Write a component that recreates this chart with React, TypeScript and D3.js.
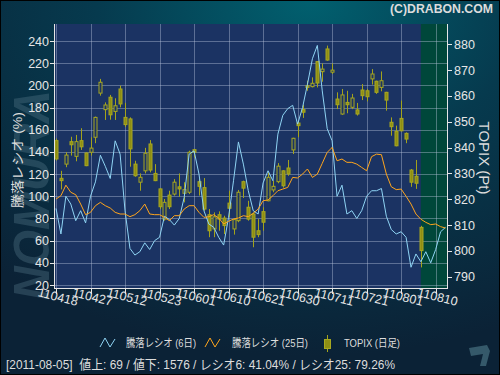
import React, { useRef, useEffect } from "react";
import * as d3 from "d3";

// x labels, one every 7 trading days (index 0 = 2011-04-18)
const tickLabels = ["110418", "110427", "110512", "110523", "110601", "110610", "110621", "110630", "110711", "110721", "110801", "110810"];
const tickStep = 7;

// TOPIX daily candles
const open = [842.7, 828.1, 833.6, 842.3, 836.6, 842.7, 837.9, 838.2, 844.0, 861.1, 854.7, 859.5, 854.0, 862.7, 851.7, 851.1, 833.6, 826.6, 831.0, 841.4, 830.0, 824.0, 812.3, 821.6, 822.0, 824.8, 822.3, 822.7, 839.2, 826.8, 824.5, 814.0, 808.5, 814.0, 812.7, 818.5, 808.5, 811.7, 826.8, 816.9, 814.3, 807.8, 815.2, 819.4, 823.6, 826.8, 831.0, 832.1, 839.1, 849.5, 854.7, 864.0, 863.6, 873.3, 869.4, 878.2, 869.2, 858.8, 853.0, 857.5, 855.6, 854.6, 862.3, 862.0, 866.6, 865.7, 863.3, 861.4, 849.8, 846.3, 851.3, 845.5, 831.3, 828.9, 809.1];
const high = [843.5, 831.0, 838.2, 844.2, 844.9, 847.5, 838.2, 844.0, 852.0, 866.6, 857.5, 860.4, 859.1, 864.0, 857.3, 851.7, 834.9, 830.0, 839.9, 842.9, 833.6, 824.2, 820.1, 823.3, 827.8, 830.0, 826.6, 838.8, 839.4, 827.8, 828.2, 816.2, 814.9, 815.3, 813.6, 823.3, 812.3, 823.6, 827.2, 819.4, 814.9, 812.3, 816.9, 830.4, 827.2, 834.0, 831.2, 835.2, 843.8, 850.4, 856.6, 865.9, 867.2, 873.5, 872.6, 879.5, 872.6, 861.4, 862.7, 862.0, 860.8, 857.3, 864.6, 862.7, 870.4, 865.9, 869.5, 861.6, 851.7, 848.5, 858.2, 845.9, 831.7, 835.2, 809.7];
const low = [835.0, 823.8, 832.4, 836.9, 834.7, 839.1, 832.8, 836.9, 841.7, 860.1, 850.7, 850.8, 850.7, 855.6, 848.0, 832.6, 828.7, 823.3, 830.0, 830.4, 827.0, 816.2, 811.7, 816.2, 821.4, 820.9, 818.8, 822.0, 836.2, 821.4, 815.5, 805.3, 805.3, 807.8, 806.5, 813.0, 806.3, 811.1, 820.5, 811.7, 801.4, 805.3, 807.8, 819.2, 822.7, 826.2, 824.5, 829.1, 837.5, 844.0, 851.5, 862.0, 863.3, 863.3, 865.5, 873.6, 868.5, 854.9, 852.7, 853.3, 854.9, 852.4, 858.4, 857.9, 864.4, 860.8, 861.8, 854.3, 844.6, 840.5, 846.3, 841.7, 824.8, 824.0, 793.6];
const close = [835.6, 827.2, 837.1, 841.1, 842.3, 840.3, 833.0, 839.8, 851.7, 865.3, 856.5, 852.7, 856.2, 856.9, 848.9, 839.5, 829.1, 828.5, 837.8, 831.3, 827.2, 817.1, 818.8, 817.1, 826.6, 824.0, 823.7, 838.2, 838.2, 825.0, 816.2, 807.8, 813.2, 812.3, 809.8, 816.5, 812.1, 822.7, 824.3, 812.3, 805.3, 806.3, 811.1, 828.5, 825.0, 832.8, 825.2, 829.8, 843.6, 848.5, 853.7, 863.3, 864.9, 865.0, 870.4, 873.9, 870.0, 856.6, 860.4, 856.6, 859.2, 853.0, 860.1, 859.7, 868.5, 861.4, 865.9, 858.4, 848.1, 840.7, 846.5, 843.3, 826.6, 826.2, 800.1];

// advance/decline ratios (%)
const ratio6 = [89, 66, 100, 93, 78, 87, 76, 100, 113, 137, 127, 116, 150, 138, 87, 53, 47, 50, 58, 52, 60, 63, 82, 79, 74, 80, 99, 138, 141, 120, 87, 75, 72, 63, 56, 81, 114, 149, 129, 105, 87, 84, 112, 123, 114, 156, 173, 179, 182, 165, 180, 201, 224, 236, 195, 161, 150, 100, 110, 84, 87, 80, 87, 100, 105, 105, 107, 82, 70, 66, 68, 63, 36, 48, 41, 50, 40, 52, 68, 72];
const ratio25 = [97.5, 100.5, 110, 103.6, 101.4, 93, 83.4, 85.5, 91.5, 94.5, 91.5, 89.4, 85.5, 84, 84, 81.6, 83.4, 87, 93, 84, 83.4, 83.4, 81, 78, 82.5, 82.5, 88.5, 91.5, 91.5, 85.5, 81, 81.6, 83.4, 80.4, 75, 77.4, 79.5, 80.4, 82.5, 81.6, 84.6, 88.5, 96, 96.6, 100.5, 105, 106.5, 108, 117, 116.5, 120, 124.6, 117, 120, 129.7, 139.6, 144, 132, 133.6, 130.6, 130.6, 129, 126, 123, 135.7, 138, 137.5, 120, 108.6, 106, 106.5, 100, 93, 84, 79.3, 76.5, 74.4, 75, 72.6, 71.4];

const leftTicks = [20, 40, 60, 80, 100, 120, 140, 160, 180, 200, 220, 240];
const rightTicks = [790, 800, 810, 820, 830, 840, 850, 860, 870, 880];

const footer = "[2011-08-05]  値上: 69 / 値下: 1576 / レシオ6: 41.04% / レシオ25: 79.26%";

export default function App() {
  const ref = useRef<SVGSVGElement | null>(null);
  const width = 500, height = 375;
  const plot = { left: 55, right: 447, top: 24, bottom: 288 };

  useEffect(() => {
    const svg = d3.select(ref.current);
    svg.selectAll("*").remove();

    const x = d3.scaleLinear().domain([0, 79.3]).range([56, 447]);
    const yL = d3.scaleLinear().domain([20, 240]).range([285, 41]);
    const yR = d3.scaleLinear().domain([790, 880]).range([276.7, 44.3]);
    const font = "'Liberation Sans', Arial, sans-serif";
    const jp = "'Liberation Sans', 'Noto Sans CJK JP', sans-serif";

    // background
    const defs = svg.append("defs");
    const rg = defs.append("radialGradient").attr("id", "bg")
      .attr("cx", 0.62).attr("cy", 0).attr("r", 0.95);
    rg.append("stop").attr("offset", 0).attr("stop-color", "#01606f");
    rg.append("stop").attr("offset", 0.45).attr("stop-color", "#063a4e");
    rg.append("stop").attr("offset", 1).attr("stop-color", "#0b2236");
    svg.append("rect").attr("width", width).attr("height", height).attr("fill", "url(#bg)");

    // watermark
    svg.append("text")
      .attr("transform", "translate(49,300) rotate(-90)")
      .attr("font-family", font).attr("font-size", 50).attr("font-weight", "bold")
      .attr("font-style", "italic").attr("fill", "#56798a").attr("opacity", 0.36)
      .attr("textLength", 210).attr("lengthAdjust", "spacingAndGlyphs")
      .text("NOMURA");

    // plot area + future zone
    svg.append("rect").attr("x", plot.left).attr("y", plot.top)
      .attr("width", plot.right - plot.left).attr("height", plot.bottom - plot.top)
      .attr("fill", "#1b3363");
    svg.append("rect").attr("x", x(open.length - 1)).attr("y", plot.top)
      .attr("width", plot.right - x(open.length - 1)).attr("height", plot.bottom - plot.top)
      .attr("fill", "#00473a");

    // grid
    const grid = svg.append("g").attr("stroke", "#b8c4dc").attr("stroke-opacity", 0.42).attr("stroke-width", 1);
    grid.selectAll("line.h").data(leftTicks).join("line")
      .attr("x1", plot.left).attr("x2", plot.right)
      .attr("y1", d => Math.round(yL(d)) + 0.5).attr("y2", d => Math.round(yL(d)) + 0.5);
    grid.selectAll("line.v").data(tickLabels).join("line")
      .attr("x1", (d, i) => Math.round(x(i * tickStep)) + 0.5).attr("x2", (d, i) => Math.round(x(i * tickStep)) + 0.5)
      .attr("y1", plot.top).attr("y2", plot.bottom);

    // candles
    const candles = open.map((o, i) => ({ i, o, h: high[i], l: low[i], c: close[i] }));
    const cg = svg.append("g");
    cg.selectAll("line").data(candles).join("line")
      .attr("x1", d => Math.round(x(d.i)) + 0.5).attr("x2", d => Math.round(x(d.i)) + 0.5)
      .attr("y1", d => yR(d.h)).attr("y2", d => yR(d.l))
      .attr("stroke", "#a3a31c").attr("stroke-width", 1);
    cg.selectAll("rect").data(candles).join("rect")
      .attr("x", d => Math.round(x(d.i)) - 1)
      .attr("width", 3)
      .attr("y", d => yR(Math.max(d.o, d.c)))
      .attr("height", d => Math.max(1, yR(Math.min(d.o, d.c)) - yR(Math.max(d.o, d.c))))
      .attr("fill", d => d.c > d.o ? "#1b3363" : "#8e8e14")
      .attr("stroke", "#a8a820").attr("stroke-width", 1);

    // ratio lines
    const line = d3.line<number>().x((d, i) => x(i)).y(d => yL(d));
    svg.append("path").datum(ratio6).attr("d", line)
      .attr("fill", "none").attr("stroke", "#8fd4f4").attr("stroke-width", 1);
    svg.append("path").datum(ratio25).attr("d", line)
      .attr("fill", "none").attr("stroke", "#ffa51c").attr("stroke-width", 1);

    // axes
    const axisColor = "#e6e6e6";
    const axes = svg.append("g").attr("stroke", axisColor).attr("stroke-width", 1);
    axes.append("line").attr("x1", 54.5).attr("x2", 54.5).attr("y1", plot.top).attr("y2", plot.bottom + 1);
    axes.append("line").attr("x1", 447.5).attr("x2", 447.5).attr("y1", plot.top).attr("y2", plot.bottom + 1);
    axes.append("line").attr("x1", 54).attr("x2", 448).attr("y1", 288.5).attr("y2", 288.5);
    axes.selectAll("line.lt").data(leftTicks).join("line")
      .attr("x1", 50).attr("x2", 54).attr("y1", d => Math.round(yL(d)) + 0.5).attr("y2", d => Math.round(yL(d)) + 0.5);
    axes.selectAll("line.rt").data(rightTicks).join("line")
      .attr("x1", 448).attr("x2", 452).attr("y1", d => Math.round(yR(d)) + 0.5).attr("y2", d => Math.round(yR(d)) + 0.5);
    axes.selectAll("line.bt").data(tickLabels).join("line")
      .attr("x1", (d, i) => Math.round(x(i * tickStep)) + 0.5).attr("x2", (d, i) => Math.round(x(i * tickStep)) + 0.5)
      .attr("y1", 289).attr("y2", 294);

    svg.append("g").selectAll("text").data(leftTicks).join("text")
      .attr("x", 49).attr("y", d => yL(d)).attr("dy", "0.36em").attr("text-anchor", "end")
      .attr("font-family", font).attr("font-size", 12.5).attr("fill", axisColor)
      .text(d => d);
    svg.append("g").selectAll("text").data(rightTicks).join("text")
      .attr("x", 454).attr("y", d => yR(d)).attr("dy", "0.36em")
      .attr("font-family", font).attr("font-size", 12.5).attr("fill", axisColor)
      .text(d => d);
    svg.append("g").selectAll("text").data(tickLabels).join("text")
      .attr("transform", (d, i) => `translate(${x(i * tickStep) + 1},${301}) rotate(14)`)
      .attr("text-anchor", "middle")
      .attr("font-family", font).attr("font-size", 12.5).attr("fill", axisColor)
      .text(d => d);

    // axis titles
    svg.append("text").attr("transform", "translate(22,160) rotate(-90)")
      .attr("text-anchor", "middle").attr("font-family", jp).attr("font-size", 13).attr("fill", "#dddddd")
      .attr("textLength", 96).attr("lengthAdjust", "spacingAndGlyphs")
      .text("騰落レシオ (%)");
    svg.append("text").attr("transform", "translate(479,158) rotate(90)")
      .attr("text-anchor", "middle").attr("font-family", font).attr("font-size", 14).attr("fill", "#dddddd")
      .attr("textLength", 73).attr("lengthAdjust", "spacingAndGlyphs")
      .text("TOPIX (Pt)");

    // copyright
    svg.append("text").attr("x", 390).attr("y", 13)
      .attr("font-family", font).attr("font-size", 13).attr("font-weight", "bold").attr("fill", "#dcdcdc")
      .attr("textLength", 103).attr("lengthAdjust", "spacingAndGlyphs")
      .text("(C)DRABON.COM");

    // legend
    const lg = svg.append("g").attr("font-family", jp).attr("font-size", 11.5).attr("fill", "#dddddd");
    lg.append("path").attr("d", "M100,347 L105,338 L110,347 L115,339").attr("fill", "none").attr("stroke", "#8fd4f4");
    lg.append("text").attr("x", 126).attr("y", 347).attr("textLength", 70).attr("lengthAdjust", "spacingAndGlyphs")
      .text("騰落レシオ (6日)");
    lg.append("path").attr("d", "M205,347 L210,338 L215,347 L220,339").attr("fill", "none").attr("stroke", "#ffa51c");
    lg.append("text").attr("x", 232).attr("y", 347).attr("textLength", 76).attr("lengthAdjust", "spacingAndGlyphs")
      .text("騰落レシオ (25日)");
    lg.append("line").attr("x1", 327.5).attr("x2", 327.5).attr("y1", 335).attr("y2", 352).attr("stroke", "#a3a31c");
    lg.append("rect").attr("x", 324.5).attr("y", 339.5).attr("width", 6).attr("height", 9)
      .attr("fill", "#8e8e14").attr("stroke", "#a8a820");
    lg.append("text").attr("x", 344).attr("y", 347).attr("textLength", 56).attr("lengthAdjust", "spacingAndGlyphs")
      .text("TOPIX (日足)");

    // footer
    svg.append("text").attr("x", 6).attr("y", 369)
      .attr("font-family", jp).attr("font-size", 13).attr("fill", "#dddddd")
      .attr("textLength", 389).attr("lengthAdjust", "spacingAndGlyphs")
      .style("white-space", "pre")
      .text(footer);

    // small logo
    svg.append("path").attr("d", "M469,348 L487,345 L490,351 L486,366 L480,366 L483,354 L471,356 Z")
      .attr("fill", "#35596a");

    svg.append("rect").attr("x", 0.5).attr("y", 0.5).attr("width", width - 1).attr("height", height - 1)
      .attr("fill", "none").attr("stroke", "#000");
  }, []);

  return (
    <svg ref={ref} width={width} height={height} style={{ position: "absolute", left: 0, top: 0 }} />
  );
}
